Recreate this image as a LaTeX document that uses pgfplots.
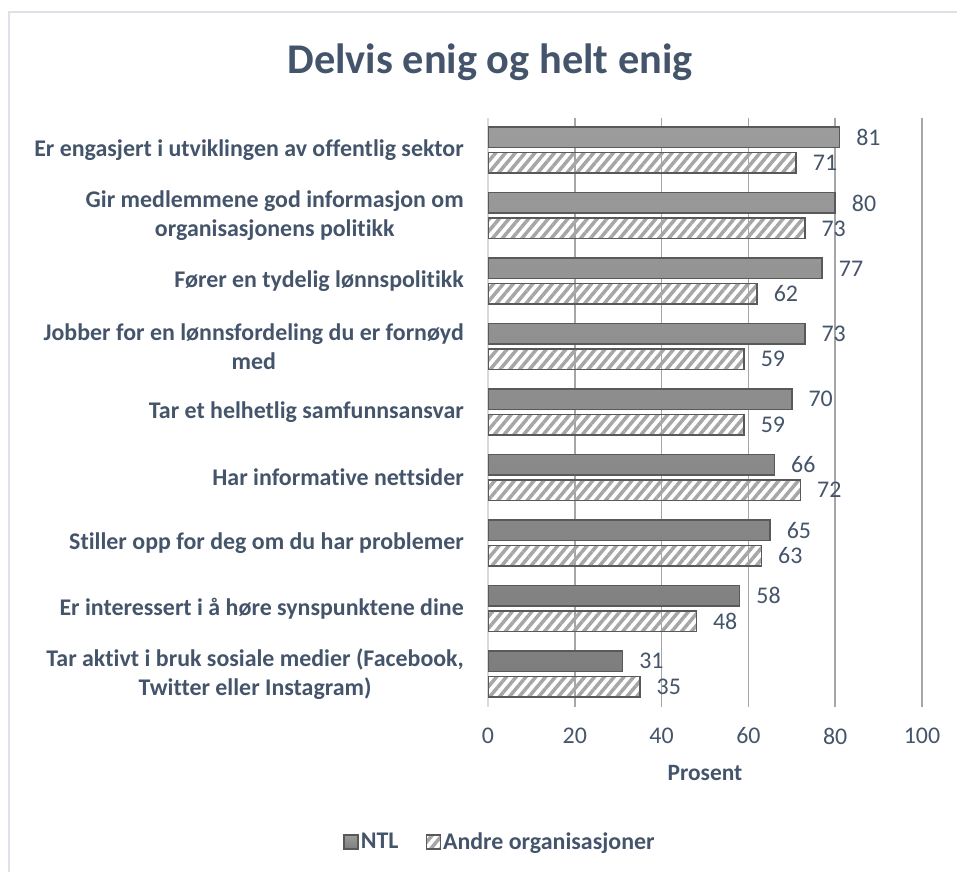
\documentclass[border=0pt]{standalone}
\usepackage{fontspec}
\setmainfont{Carlito}[Ligatures=CommonOff]
\usepackage{pgfplots}
\pgfplotsset{compat=1.18}
\usetikzlibrary{patterns.meta}
\definecolor{txt}{HTML}{44546A}
\definecolor{gridc}{HTML}{A6A6A6}
\definecolor{axisc}{HTML}{D9D9D9}
\definecolor{framec}{HTML}{DDE2E8}
\definecolor{edgec}{HTML}{595959}
\definecolor{ntltop}{HTML}{9C9C9C}
\definecolor{ntlbot}{HTML}{7E7E7E}
\definecolor{hatchc}{HTML}{A6A6A6}

\begin{document}
\begin{tikzpicture}
\path[use as bounding box] (0bp,0bp) rectangle (957bp,-872bp);
\draw[framec, line width=1.5bp] (9bp,-872bp) -- (9bp,-12bp) -- (957bp,-12bp);
\node[text=txt, font=\bfseries\fontsize{42.5}{42.5}\selectfont, anchor=base] at (490bp,-73bp) {Delvis enig og helt enig};
\begin{axis}[
    at={(488bp,-117.5bp)}, anchor=north west,
    scale only axis, width=434bp, height=589bp,
    xbar=5bp, bar width=20.5bp,
    xmin=0, xmax=100,
    ymin=-0.5, ymax=8.5, y dir=reverse,
    xtick={20,40,60,80,100},
    extra x ticks={0},
    extra x tick style={major grid style={draw=axisc, line width=1.5bp}},
    ytick={0,...,8},
    yticklabels={
      Er engasjert i utviklingen av offentlig sektor,
      {Gir medlemmene god informasjon om\\organisasjonens politikk},
      Fører en tydelig lønnspolitikk,
      {Jobber for en lønnsfordeling du er fornøyd\\med},
      Tar et helhetlig samfunnsansvar,
      Har informative nettsider,
      Stiller opp for deg om du har problemer,
      Er interessert i å høre synspunktene dine,
      {Tar aktivt i bruk sosiale medier (Facebook,\\Twitter eller Instagram)}
    },
    yticklabel style={anchor=east, xshift=-24bp, inner sep=0pt, align=center,
      font=\bfseries\fontsize{24}{29}\selectfont, text=txt},
    xticklabel style={anchor=center, yshift=-29.5bp, inner sep=0pt,
      font=\fontsize{24}{24}\selectfont, text=txt},
    /pgf/number format/assume math mode=true,
    major tick length=0pt,
    axis line style={draw=none},
    xmajorgrids, major grid style={draw=gridc, line width=1.5bp},
    xlabel={Prosent},
    xlabel style={at={(axis description cs:0.5,-0.113)}, anchor=center,
      font=\bfseries\fontsize{23.5}{23.5}\selectfont, text=txt},
    nodes near coords,
    nodes near coords style={anchor=west, inner sep=0pt, xshift=16bp,
      font=\fontsize{24}{24}\selectfont, text=txt},
    legend columns=2,
    reverse legend,
    legend style={at={(axis description cs:0.0276,-0.23)}, anchor=center,
      draw=none, fill=none, font=\bfseries\fontsize{24}{24}\selectfont, text=txt,
      /tikz/every even column/.append style={column sep=25bp}},
    legend image code/.code={\draw[#1] (0bp,-7bp) rectangle (14bp,7bp);},
]
\addplot[draw=edgec, line width=1.5bp, pattern={Lines[angle=50, distance=7.5bp, line width=3.5bp]}, pattern color=hatchc] coordinates {
  (71,0) (73,1) (62,2) (59,3) (59,4) (72,5) (63,6) (48,7) (35,8)
};
\addplot[draw=edgec, line width=1.5bp, top color=ntltop, bottom color=ntlbot] coordinates {
  (81,0) (80,1) (77,2) (73,3) (70,4) (66,5) (65,6) (58,7) (31,8)
};
\legend{Andre organisasjoner, NTL}
\end{axis}
\end{tikzpicture}
\end{document}
